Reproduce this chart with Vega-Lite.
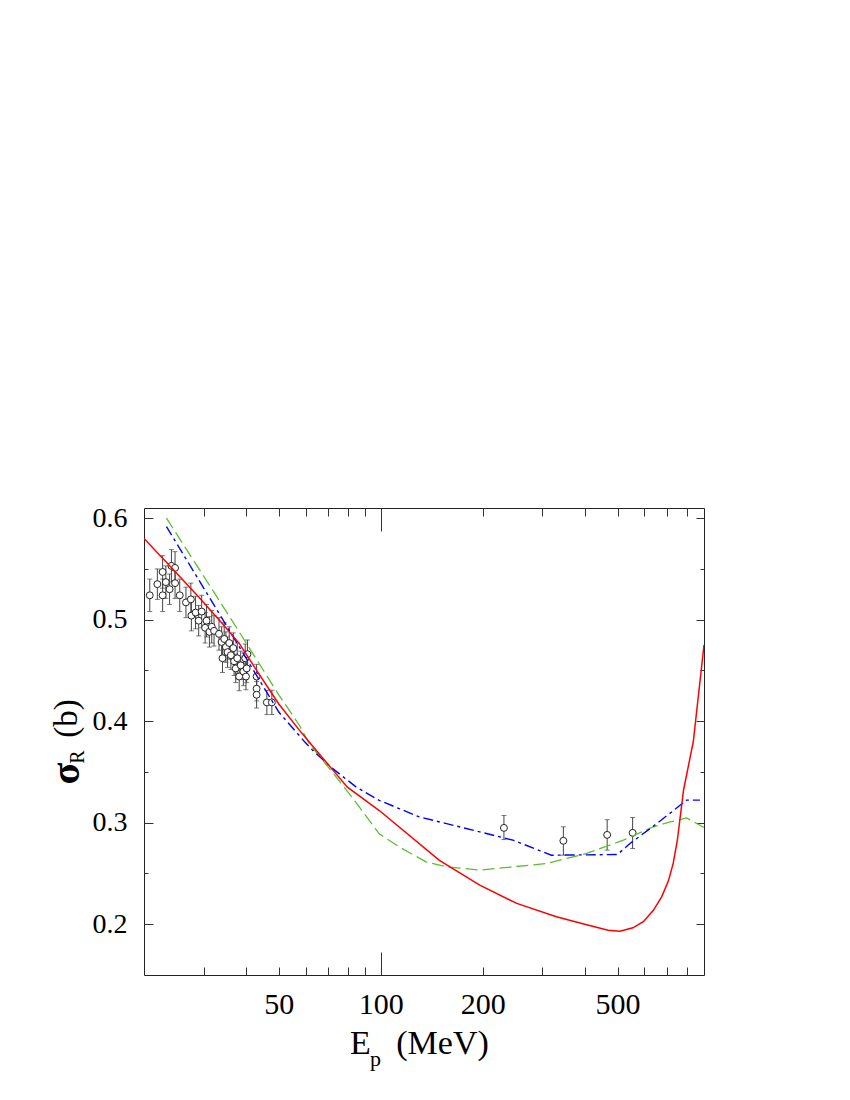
{
  "$schema": "https://vega.github.io/schema/vega-lite/v6.json",
  "width": 560,
  "height": 467,
  "autosize": {"type": "none"},
  "padding": {"left": 144, "top": 508, "right": 146, "bottom": 125},
  "background": "white",
  "config": {
    "view": {"stroke": "#222", "strokeWidth": 1},
    "axis": {"grid": false, "domain": false, "labelFont": "Liberation Serif", "titleFont": "Liberation Serif", "labelColor": "black", "titleColor": "black", "tickColor": "#333", "tickWidth": 1, "titleFontWeight": "normal", "labelFlush": false, "labelOverlap": false}
  },
  "datasets": {
    "pts": [
      {"E": 20.8, "s": 0.524, "lo": 0.508, "hi": 0.540},
      {"E": 21.9, "s": 0.535, "lo": 0.520, "hi": 0.550},
      {"E": 22.7, "s": 0.547, "lo": 0.531, "hi": 0.563},
      {"E": 22.7, "s": 0.524, "lo": 0.508, "hi": 0.540},
      {"E": 23.2, "s": 0.537, "lo": 0.521, "hi": 0.553},
      {"E": 23.8, "s": 0.530, "lo": 0.515, "hi": 0.545},
      {"E": 24.1, "s": 0.553, "lo": 0.537, "hi": 0.569},
      {"E": 24.7, "s": 0.551, "lo": 0.535, "hi": 0.567},
      {"E": 24.7, "s": 0.536, "lo": 0.521, "hi": 0.551},
      {"E": 25.5, "s": 0.524, "lo": 0.508, "hi": 0.540},
      {"E": 26.6, "s": 0.517, "lo": 0.502, "hi": 0.532},
      {"E": 27.5, "s": 0.520, "lo": 0.504, "hi": 0.536},
      {"E": 27.6, "s": 0.504, "lo": 0.489, "hi": 0.519},
      {"E": 28.4, "s": 0.507, "lo": 0.491, "hi": 0.523},
      {"E": 29.0, "s": 0.499, "lo": 0.484, "hi": 0.514},
      {"E": 29.6, "s": 0.508, "lo": 0.492, "hi": 0.524},
      {"E": 30.3, "s": 0.492, "lo": 0.477, "hi": 0.507},
      {"E": 30.6, "s": 0.499, "lo": 0.483, "hi": 0.515},
      {"E": 31.2, "s": 0.488, "lo": 0.473, "hi": 0.503},
      {"E": 31.7, "s": 0.493, "lo": 0.477, "hi": 0.509},
      {"E": 32.2, "s": 0.489, "lo": 0.474, "hi": 0.504},
      {"E": 33.3, "s": 0.486, "lo": 0.470, "hi": 0.502},
      {"E": 33.9, "s": 0.478, "lo": 0.463, "hi": 0.493},
      {"E": 34.5, "s": 0.481, "lo": 0.465, "hi": 0.497},
      {"E": 34.1, "s": 0.462, "lo": 0.448, "hi": 0.476},
      {"E": 34.9, "s": 0.473, "lo": 0.458, "hi": 0.488},
      {"E": 35.3, "s": 0.468, "lo": 0.453, "hi": 0.483},
      {"E": 35.7, "s": 0.477, "lo": 0.461, "hi": 0.493},
      {"E": 36.1, "s": 0.465, "lo": 0.451, "hi": 0.479},
      {"E": 36.7, "s": 0.472, "lo": 0.457, "hi": 0.487},
      {"E": 36.9, "s": 0.459, "lo": 0.445, "hi": 0.473},
      {"E": 37.3, "s": 0.452, "lo": 0.438, "hi": 0.466},
      {"E": 37.7, "s": 0.462, "lo": 0.447, "hi": 0.477},
      {"E": 38.2, "s": 0.444, "lo": 0.430, "hi": 0.458},
      {"E": 38.6, "s": 0.455, "lo": 0.441, "hi": 0.469},
      {"E": 39.3, "s": 0.449, "lo": 0.435, "hi": 0.463},
      {"E": 39.8, "s": 0.462, "lo": 0.448, "hi": 0.476},
      {"E": 40.0, "s": 0.444, "lo": 0.431, "hi": 0.457},
      {"E": 40.2, "s": 0.452, "lo": 0.438, "hi": 0.466},
      {"E": 40.4, "s": 0.466, "lo": 0.452, "hi": 0.480},
      {"E": 43.0, "s": 0.444, "lo": 0.432, "hi": 0.456},
      {"E": 43.0, "s": 0.432, "lo": 0.420, "hi": 0.444},
      {"E": 43.0, "s": 0.426, "lo": 0.413, "hi": 0.439},
      {"E": 46.1, "s": 0.4185, "lo": 0.4065, "hi": 0.4305},
      {"E": 47.7, "s": 0.4185, "lo": 0.4065, "hi": 0.4305},
      {"E": 231, "s": 0.2949, "lo": 0.2834, "hi": 0.3071},
      {"E": 346, "s": 0.2822, "lo": 0.268, "hi": 0.296},
      {"E": 466, "s": 0.288, "lo": 0.273, "hi": 0.303},
      {"E": 554, "s": 0.290, "lo": 0.2746, "hi": 0.3051}
    ],
    "red": [
      {"E": 20, "s": 0.580}, {"E": 24.2, "s": 0.5507}, {"E": 29, "s": 0.5224}, {"E": 34, "s": 0.4965},
      {"E": 38.2, "s": 0.4767}, {"E": 43.2, "s": 0.449}, {"E": 50, "s": 0.4169}, {"E": 57.5, "s": 0.3912},
      {"E": 62, "s": 0.3781}, {"E": 70.5, "s": 0.356}, {"E": 79.7, "s": 0.335}, {"E": 99, "s": 0.312},
      {"E": 149, "s": 0.263}, {"E": 196, "s": 0.2385}, {"E": 252, "s": 0.2205}, {"E": 330, "s": 0.2073},
      {"E": 400, "s": 0.2}, {"E": 469, "s": 0.194}, {"E": 508, "s": 0.193}, {"E": 555, "s": 0.1965},
      {"E": 596, "s": 0.2025}, {"E": 637, "s": 0.2135}, {"E": 675, "s": 0.227}, {"E": 707, "s": 0.243},
      {"E": 730, "s": 0.26}, {"E": 751, "s": 0.283}, {"E": 783, "s": 0.332}, {"E": 837, "s": 0.38},
      {"E": 900, "s": 0.475}
    ],
    "green": [
      {"E": 23.3, "s": 0.600}, {"E": 35, "s": 0.508}, {"E": 50, "s": 0.426}, {"E": 57.5, "s": 0.396},
      {"E": 61.5, "s": 0.378}, {"E": 73.8, "s": 0.3452}, {"E": 83.6, "s": 0.322}, {"E": 99, "s": 0.289},
      {"E": 113.6, "s": 0.276}, {"E": 136, "s": 0.2614}, {"E": 156, "s": 0.2566}, {"E": 196, "s": 0.2533},
      {"E": 308, "s": 0.2598}, {"E": 405, "s": 0.2697}, {"E": 520, "s": 0.2828}, {"E": 637, "s": 0.296},
      {"E": 720, "s": 0.301}, {"E": 800, "s": 0.3047}, {"E": 900, "s": 0.2953}
    ],
    "blue": [
      {"E": 23.3, "s": 0.5917}, {"E": 35.3, "s": 0.4923}, {"E": 50, "s": 0.409}, {"E": 59.5, "s": 0.38},
      {"E": 62.9, "s": 0.3715}, {"E": 72, "s": 0.3535}, {"E": 84.5, "s": 0.3353}, {"E": 99, "s": 0.322},
      {"E": 130, "s": 0.3057}, {"E": 196, "s": 0.291}, {"E": 245.6, "s": 0.2828}, {"E": 319, "s": 0.268},
      {"E": 500, "s": 0.2687}, {"E": 544, "s": 0.2795}, {"E": 654, "s": 0.2993}, {"E": 800, "s": 0.3223},
      {"E": 875, "s": 0.3223}
    ]
  },
  "resolve": {"axis": {"x": "independent", "y": "independent"}},
  "layer": [
    {
      "data": {"name": "pts"},
      "mark": {"type": "rule", "color": "#444", "strokeWidth": 1},
      "encoding": {
        "x": {"field": "E", "type": "quantitative", "scale": {"type": "log", "domain": [20, 900], "nice": false},
          "axis": {"orient": "bottom", "values": [50, 100, 200, 500], "format": "d", "ticks": false, "labelFontSize": 30, "labelPadding": 14,
            "title": "E", "titleFontSize": 34, "titleX": 216, "titleY": 68, "titleAlign": "center", "titleBaseline": "middle"}},
        "y": {"field": "lo", "type": "quantitative", "scale": {"domain": [0.15, 0.61], "nice": false, "zero": false},
          "axis": {"orient": "left", "values": [0.2, 0.3, 0.4, 0.5, 0.6], "format": ".1f", "ticks": false, "labelFontSize": 28, "labelPadding": 17,
            "title": "(b)", "titleFontSize": 33, "titleX": -78, "titleY": 210, "titleAngle": -90, "titleAlign": "center", "titleBaseline": "middle"}},
        "y2": {"field": "hi"}
      }
    },
    {
      "data": {"name": "pts"},
      "mark": {"type": "tick", "orient": "horizontal", "size": 5, "thickness": 1, "color": "#444"},
      "encoding": {
        "x": {"field": "E", "type": "quantitative", "scale": {"type": "log", "domain": [20, 900], "nice": false},
          "axis": {"orient": "bottom", "values": [30, 40, 50, 60, 70, 80, 90, 200, 300, 400, 500, 600, 700, 800], "labels": false, "tickSize": 8, "offset": -8, "title": null}},
        "y": {"field": "hi", "type": "quantitative", "scale": {"domain": [0.15, 0.61], "nice": false, "zero": false},
          "axis": {"orient": "left", "values": [0.2, 0.3, 0.4, 0.5, 0.6], "labels": false, "tickSize": 9, "offset": -9, "title": null}}
      }
    },
    {
      "data": {"name": "pts"},
      "mark": {"type": "tick", "orient": "horizontal", "size": 5, "thickness": 1, "color": "#444"},
      "encoding": {
        "x": {"field": "E", "type": "quantitative", "scale": {"type": "log", "domain": [20, 900], "nice": false},
          "axis": {"orient": "top", "values": [30, 40, 50, 60, 70, 80, 90, 200, 300, 400, 500, 600, 700, 800], "labels": false, "tickSize": 8, "offset": -8, "title": null}},
        "y": {"field": "lo", "type": "quantitative", "scale": {"domain": [0.15, 0.61], "nice": false, "zero": false},
          "axis": {"orient": "left", "values": [0.25, 0.35, 0.45, 0.55], "labels": false, "tickSize": 4, "offset": -4, "title": null}}
      }
    },
    {
      "data": {"name": "pts"},
      "mark": {"type": "point", "shape": "circle", "size": 48, "filled": true, "fill": "white", "stroke": "#222", "strokeWidth": 1, "opacity": 1},
      "encoding": {
        "x": {"field": "E", "type": "quantitative", "scale": {"type": "log", "domain": [20, 900], "nice": false},
          "axis": {"orient": "top", "values": [100], "labels": false, "tickSize": 23, "offset": -23, "title": null}},
        "y": {"field": "s", "type": "quantitative", "scale": {"domain": [0.15, 0.61], "nice": false, "zero": false},
          "axis": {"orient": "right", "values": [0.2, 0.3, 0.4, 0.5, 0.6], "labels": false, "tickSize": 8, "offset": -8, "title": null}}
      }
    },
    {
      "data": {"name": "green"},
      "mark": {"type": "line", "color": "#5cbf30", "strokeWidth": 1.3, "strokeDash": [12, 5], "clip": true},
      "encoding": {
        "x": {"field": "E", "type": "quantitative", "scale": {"type": "log", "domain": [20, 900], "nice": false},
          "axis": {"orient": "bottom", "ticks": false, "labels": false, "title": "p", "titleFontSize": 22, "titleX": 231, "titleY": 83, "titleAlign": "center", "titleBaseline": "middle"}},
        "y": {"field": "s", "type": "quantitative", "scale": {"domain": [0.15, 0.61], "nice": false, "zero": false},
          "axis": {"orient": "left", "ticks": false, "labels": false, "title": "σ", "titleFontSize": 40, "titleFontWeight": "bold", "titleX": -78, "titleY": 265, "titleAngle": -90, "titleAlign": "center", "titleBaseline": "middle"}}
      }
    },
    {
      "data": {"name": "blue"},
      "mark": {"type": "line", "color": "#0000ff", "strokeWidth": 1.4, "strokeDash": [10, 4, 3, 4], "clip": true},
      "encoding": {
        "x": {"field": "E", "type": "quantitative", "scale": {"type": "log", "domain": [20, 900], "nice": false},
          "axis": {"orient": "bottom", "ticks": false, "labels": false, "title": "(MeV)", "titleFontSize": 34, "titleX": 298, "titleY": 68, "titleAlign": "center", "titleBaseline": "middle"}},
        "y": {"field": "s", "type": "quantitative", "scale": {"domain": [0.15, 0.61], "nice": false, "zero": false},
          "axis": {"orient": "left", "ticks": false, "labels": false, "title": "R", "titleFontSize": 20, "titleX": -66.5, "titleY": 248.5, "titleAngle": -90, "titleAlign": "center", "titleBaseline": "middle"}}
      }
    },
    {
      "data": {"name": "red"},
      "mark": {"type": "line", "color": "#ff0000", "strokeWidth": 1.5, "clip": true},
      "encoding": {
        "x": {"field": "E", "type": "quantitative", "scale": {"type": "log", "domain": [20, 900], "nice": false},
          "axis": {"orient": "bottom", "values": [100], "labels": false, "tickSize": 23, "offset": -23, "title": null}},
        "y": {"field": "s", "type": "quantitative", "scale": {"domain": [0.15, 0.61], "nice": false, "zero": false},
          "axis": {"orient": "right", "values": [0.25, 0.35, 0.45, 0.55], "labels": false, "tickSize": 4, "offset": -4, "title": null}}
      }
    }
  ]
}
